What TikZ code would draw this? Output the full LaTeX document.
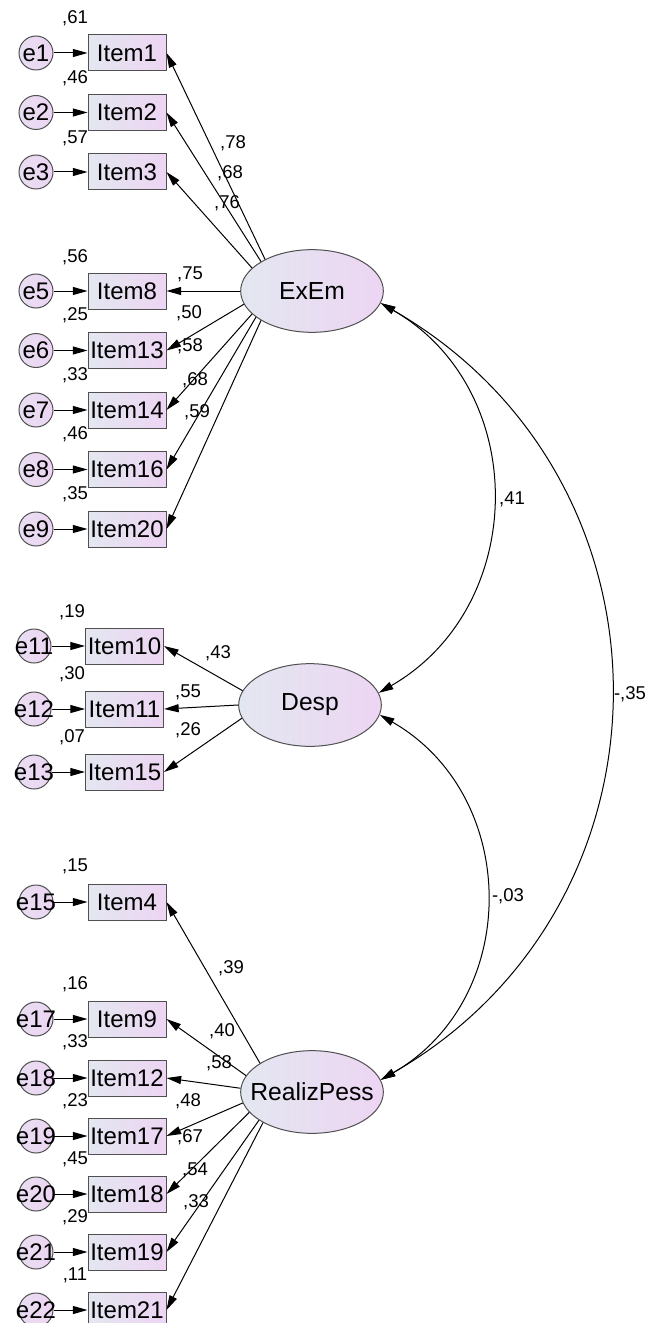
\documentclass[tikz,border=0pt]{standalone}
\usepackage{fontspec}
\setmainfont{Liberation Sans}
\usetikzlibrary{arrows.meta,shapes.geometric}

\definecolor{fillleft}{RGB}{227,231,240}
\definecolor{fillright}{RGB}{237,213,243}
\definecolor{edgegray}{RGB}{80,80,80}

\newcommand{\nowidth}[1]{\makebox[0pt]{#1}}

\tikzset{every picture/.style={line width=0.75pt}}
\tikzset{
  item/.style={draw=edgegray, rectangle, minimum width=58.5pt, minimum height=27pt, inner sep=0pt,
    left color=fillleft, right color=fillright, font=\fontsize{18}{18}\selectfont},
  err/.style={draw=edgegray, circle, minimum size=25.5pt, inner sep=0pt,
    left color=fillleft!50!fillright, right color=fillright, font=\fontsize{18}{18}\selectfont},
  latent/.style={draw=edgegray, ellipse, minimum width=107pt, minimum height=62pt, inner sep=0pt,
    left color=fillleft, right color=fillright, font=\fontsize{18.5}{18.5}\selectfont},
  val/.style={inner sep=0pt, font=\fontsize{13.9}{14}\selectfont},
  arr/.style={-{Triangle[length=11pt,width=6pt]}},
  cov/.style={{Triangle[length=11pt,width=6pt]}-{Triangle[length=11pt,width=6pt]}},
}

\begin{document}
\begin{tikzpicture}[x=0.75pt,y=0.75pt,yscale=-1,xscale=1]
\useasboundingbox (0,0) rectangle (646,1323);

%Shape: Ellipse [latent variables]
\node[latent] (ExEm) at (312,291) {\nowidth{ExEm}};
\node[latent] (Desp) at (310,705) {\nowidth{Desp}};
\node[latent] (RealizPess) at (312,1092) {\nowidth{RealizPess}};

%Shape: Rectangle [items of ExEm]
\node[item] (i1) at (127,53) {Item1};
\node[item] (i2) at (127,112.5) {Item2};
\node[item] (i3) at (127,172) {Item3};
\node[item] (i8) at (127,291) {Item8};
\node[item] (i13) at (127,350.5) {Item13};
\node[item] (i14) at (127,410) {Item14};
\node[item] (i16) at (127,469.5) {Item16};
\node[item] (i20) at (127,529) {Item20};
%Shape: Rectangle [items of Desp]
\node[item] (i10) at (124.5,646) {Item10};
\node[item] (i11) at (124.5,709) {Item11};
\node[item] (i15) at (124.5,772) {Item15};
%Shape: Rectangle [items of RealizPess]
\node[item] (i4) at (127,902) {Item4};
\node[item] (i9) at (127,1019) {Item9};
\node[item] (i12) at (127,1078) {Item12};
\node[item] (i17) at (127,1136) {Item17};
\node[item] (i18) at (127,1194) {Item18};
\node[item] (i19) at (127,1252) {Item19};
\node[item] (i21) at (127,1310) {Item21};

%Shape: Circle [errors]
\node[err] (e1) at (36,53) {\nowidth{e1}};
\node[err] (e2) at (36,112.5) {\nowidth{e2}};
\node[err] (e3) at (36,172) {\nowidth{e3}};
\node[err] (e5) at (36,291) {\nowidth{e5}};
\node[err] (e6) at (36,350.5) {\nowidth{e6}};
\node[err] (e7) at (36,410) {\nowidth{e7}};
\node[err] (e8) at (36,469.5) {\nowidth{e8}};
\node[err] (e9) at (36,529) {\nowidth{e9}};
\node[err] (e11) at (34,646) {\nowidth{e11}};
\node[err] (e12) at (34,709) {\nowidth{e12}};
\node[err] (e13) at (34,772) {\nowidth{e13}};
\node[err] (e15) at (36,902) {\nowidth{e15}};
\node[err] (e17) at (36,1019) {\nowidth{e17}};
\node[err] (e18) at (36,1078) {\nowidth{e18}};
\node[err] (e19) at (36,1136) {\nowidth{e19}};
\node[err] (e20) at (36,1194) {\nowidth{e20}};
\node[err] (e21) at (36,1252) {\nowidth{e21}};
\node[err] (e22) at (36,1310) {\nowidth{e22}};

%Straight Lines [error -> item]
\draw[arr] (e1) -- (i1);
\draw[arr] (e2) -- (i2);
\draw[arr] (e3) -- (i3);
\draw[arr] (e5) -- (i8);
\draw[arr] (e6) -- (i13);
\draw[arr] (e7) -- (i14);
\draw[arr] (e8) -- (i16);
\draw[arr] (e9) -- (i20);
\draw[arr] (e11) -- (i10);
\draw[arr] (e12) -- (i11);
\draw[arr] (e13) -- (i15);
\draw[arr] (e15) -- (i4);
\draw[arr] (e17) -- (i9);
\draw[arr] (e18) -- (i12);
\draw[arr] (e19) -- (i17);
\draw[arr] (e20) -- (i18);
\draw[arr] (e21) -- (i19);
\draw[arr] (e22) -- (i21);

%Straight Lines [loadings]
\draw[arr] (ExEm.146) -- (i1.east);
\draw[arr] (ExEm.150) -- (i2.east);
\draw[arr] (ExEm.159) -- (i3.east);
\draw[arr] (ExEm.180) -- (i8.east);
\draw[arr] (ExEm.191) -- (i13.east);
\draw[arr] (ExEm.201) -- (i14.east);
\draw[arr] (ExEm.205) -- (i16.east);
\draw[arr] (ExEm.210) -- (i20.east);
\draw[arr] (Desp.168) -- (i10.east);
\draw[arr] (Desp.180) -- (i11.east);
\draw[arr] (Desp.191) -- (i15.east);
\draw[arr] (RealizPess.151) -- (i4.east);
\draw[arr] (RealizPess.166) -- (i9.east);
\draw[arr] (RealizPess.177) -- (i12.east);
\draw[arr] (RealizPess.189) -- (i17.east);
\draw[arr] (RealizPess.198) -- (i18.east);
\draw[arr] (RealizPess.208) -- (i19.east);
\draw[arr] (RealizPess.212) -- (i21.east);

%Curve Lines [covariances]
\draw[cov] (ExEm.-10) .. controls +(150,86.5) and +(150,-86.5) .. (Desp.10);
\draw[cov] (ExEm.-10) .. controls +(306,176) and +(306,-176) .. (RealizPess.10);
\draw[cov] (Desp.-8) .. controls +(141,81) and +(141,-81) .. (RealizPess.10);

% Text Node [squared multiple correlations]
\node[val] (r1) at (75,18) {,61};
\node[val] (r2) at (75,78) {,46};
\node[val] (r3) at (75,138) {,57};
\node[val] (r8) at (75,257) {,56};
\node[val] (r13) at (75,315) {,25};
\node[val] (r14) at (75,375) {,33};
\node[val] (r16) at (75,434) {,46};
\node[val] (r20) at (75,494) {,35};
\node[val] (r10) at (72,612) {,19};
\node[val] (r11) at (72,674) {,30};
\node[val] (r15) at (72,737) {,07};
\node[val] (r4) at (75,866) {,15};
\node[val] (r9) at (75,984) {,16};
\node[val] (r12) at (75,1042) {,33};
\node[val] (r17) at (75,1101) {,23};
\node[val] (r18) at (75,1159) {,45};
\node[val] (r19) at (75,1217) {,29};
\node[val] (r21) at (75,1275) {,11};

% Text Node [loadings]
\node[val] (w1) at (233,143) {,78};
\node[val] (w2) at (230,173) {,68};
\node[val] (w3) at (227,203) {,76};
\node[val] (w8) at (190,274) {,75};
\node[val] (w13) at (189,313) {,50};
\node[val] (w14) at (190,346) {,58};
\node[val] (w16) at (195,380) {,68};
\node[val] (w20) at (197,412) {,59};
\node[val] (w10) at (218,653) {,43};
\node[val] (w11) at (188,692) {,55};
\node[val] (w15) at (188,730) {,26};
\node[val] (w4) at (231,968) {,39};
\node[val] (w9) at (222,1031) {,40};
\node[val] (w12) at (219,1063) {,58};
\node[val] (w17) at (188,1101) {,48};
\node[val] (w18) at (190,1137) {,67};
\node[val] (w19) at (195,1170) {,54};
\node[val] (w21) at (196,1202) {,33};

% Text Node [covariances]
\node[val] (c1) at (512,499) {,41};
\node[val] (c2) at (630,694) {-,35};
\node[val] (c3) at (508,896) {-,03};

\end{tikzpicture}
\end{document}
